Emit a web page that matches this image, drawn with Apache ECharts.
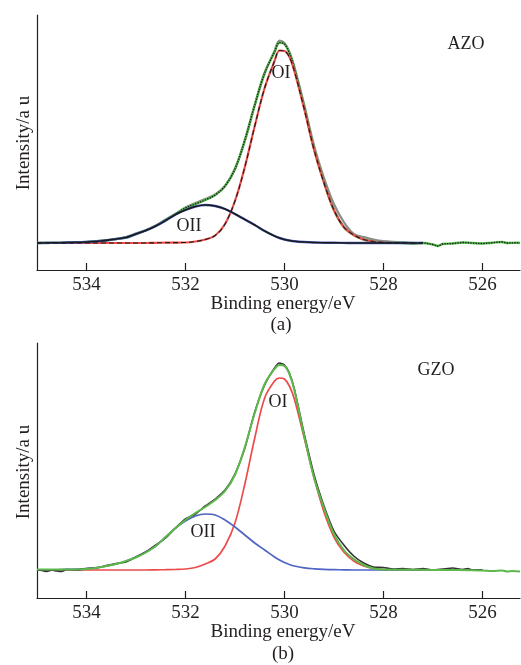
<!DOCTYPE html>
<html>
<head>
<meta charset="utf-8">
<script src="https://cdn.jsdelivr.net/npm/echarts@6/dist/echarts.min.js"></script>
<style>html,body{margin:0;padding:0;background:#fff;}#c{width:521px;height:665px;}</style>
</head>
<body>
<div id="c"></div>
<script>
// Binding energy grid (eV) for the smooth components
const energyA = [535, 534.5, 534, 533.7, 533.4, 533.2, 533.0, 532.8, 532.6, 532.4, 532.2, 532.0, 531.8, 531.6, 531.4, 531.2, 531.0, 530.8, 530.6, 530.4, 530.2, 530.1, 530.0, 529.9, 529.8, 529.6, 529.4, 529.2, 529.0, 528.8, 528.6, 528.4, 528.2, 528.0, 527.5, 527.2];
const energyB = [535, 534.5, 534, 533.7, 533.4, 533.2, 533.0, 532.8, 532.6, 532.4, 532.2, 532.0, 531.8, 531.6, 531.4, 531.2, 531.0, 530.8, 530.6, 530.4, 530.2, 530.1, 530.0, 529.9, 529.8, 529.6, 529.4, 529.2, 529.0, 528.8, 528.6, 528.4, 528.2, 528.0, 527.5, 527.2, 527.0, 526.5, 526.0];

// (a) AZO
const azoOI  = [0,0,0,0,0,0,0,0,0.2,0.3,0.4,0.5,1.5,3.5,7.5,19,42,76,117,155,182,192.5,192,186,172,134,93,60,33,16,8,3.5,1.5,0.5,0,0];
const azoOII = [0,0.3,1,2,4,5.5,9,12.5,17,22.5,28.5,33,36.5,38,37,34,29,23.5,18,12,7,5,3.5,2.5,1.8,1,0.5,0.3,0.2,0.1,0,0,0,0,0,0];
const azoRaw = [0,0.5,1,2.5,4,6,9.5,13,17.5,23.5,29,35.5,40,44,48.5,57,74,102,138,170,192,202.5,200,191,176,138,97,65,39,21,9,6,3.5,2,0.5,0];
const azoFitEnergy = [535, 534.5, 534, 533.7, 533.4, 533.2, 533.0, 532.8, 532.6, 532.4, 532.2, 532.0, 531.8, 531.6, 531.4, 531.2, 531.0, 530.8, 530.6, 530.4, 530.2, 530.1, 530.0, 529.9, 529.8, 529.6, 529.4, 529.2, 529.0, 528.8, 528.6, 528.4, 528.2, 528.0, 527.8, 527.6, 527.4, 527.2, 527.0, 526.9, 526.8, 526.6, 526.4, 526.2, 526.0, 525.8, 525.6, 525.5, 525.3, 525.24];
const azoFit = [0,0.3,1,2,4,5.5,9,12.5,17,23,29,35,39,43,48,57,74,103,138,170,191,200.5,199,190,175,136,94,61,33,16,8,3.5,1.5,0.5,0.2,0,-0.5,0,-1.5,-3,-1,-0.5,0.5,0,-0.5,0.3,1,0,0.3,0];

// (b) GZO
const gzoOI  = [0,0,0,0,0,0,0,0,0.2,0.3,0.5,1,2.5,6,11,24,47,86,132,172,189,192,191,184,171,132,92,58,33,18,9,4,1.5,0.5,0,0,0,0,0];
const gzoOII = [0,0.5,1.5,3,6,9,13,18,24,33,42,49,54,56,55,50,43,35,27,20,13,10,7.5,5.5,4,2.2,1.2,0.6,0.3,0.2,0,0,0,0,0,0,0,0,0];
const gzoFitEnergy = [535, 534.5, 534, 533.7, 533.4, 533.2, 533.0, 532.8, 532.6, 532.4, 532.2, 532.0, 531.8, 531.6, 531.4, 531.2, 531.0, 530.8, 530.6, 530.4, 530.2, 530.1, 530.0, 529.9, 529.8, 529.6, 529.4, 529.2, 529.0, 528.8, 528.6, 528.4, 528.2, 528.0, 527.5, 527.0, 526.5, 526.0, 525.8, 525.6, 525.5, 525.4, 525.24];
const gzoFit = [0.5,0.5,1,3,6,9,12.5,17.5,24,33,42,50,57,63,70,79,95,123,157,186,201,205,204,196,180,134,92,62,36,20,11,5,1.5,0.5,0.3,0,0,-0.5,-1,-0.5,-1.5,-1,-1.5];
const gzoRawEnergy = [535, 534.9, 534.8, 534.7, 534.6, 534.5, 534.4, 534.2, 534.0, 533.8, 533.6, 533.4, 533.2, 533.0, 532.8, 532.6, 532.4, 532.2, 532.0, 531.8, 531.6, 531.4, 531.2, 531.0, 530.8, 530.6, 530.4, 530.2, 530.1, 530.0, 529.9, 529.8, 529.6, 529.4, 529.2, 529.0, 528.8, 528.6, 528.4, 528.2, 528.0, 527.8, 527.6, 527.4, 527.2, 527.0, 526.8, 526.6, 526.4, 526.3, 526.2, 526.0];
const gzoRaw = [0,-0.5,-1.5,0,-1,-1.5,0.5,0,1.5,2,4.5,6.5,8,13,18,25,32,42,51,56,64,71,80,96,122,158,185,202,207,205,197,181,136,95,64,39,25,14,7,3,2.5,1,1.5,0.5,1.5,0,1,2,0.5,1.5,0,0];

const tickValues = [534, 532, 530, 528, 526];

const pairs = (xs, ys) => xs.map((x, i) => [x, ys[i]]);
const FONT = 'Liberation Serif';
const INK = '#231f20';

function line(xi, data, color, width, type, z, smooth) {
  return {
    type: 'line', xAxisIndex: xi, yAxisIndex: xi, data: data,
    showSymbol: false, symbol: 'none', smooth: smooth === undefined ? 0.35 : smooth,
    lineStyle: { color: color, width: width, type: type || 'solid' },
    z: z, silent: true, animation: false
  };
}

function xAx(i) {
  return {
    gridIndex: i, type: 'value', min: 525.24, max: 535, inverse: true,
    axisLine: { show: true, onZero: false, lineStyle: { color: INK, width: 1.2 } },
    axisTick: { show: true, inside: true, length: 7, customValues: tickValues, lineStyle: { color: INK, width: 1.2 } },
    axisLabel: { show: true, customValues: tickValues, fontFamily: FONT, fontSize: 19, color: INK, margin: 6 },
    splitLine: { show: false }
  };
}
function yAx(i, min, max) {
  return {
    gridIndex: i, type: 'value', min: min, max: max,
    axisLine: { show: true, onZero: false, lineStyle: { color: INK, width: 1.2 } },
    axisTick: { show: false }, axisLabel: { show: false }, splitLine: { show: false }
  };
}
function txt(text, x, y, size, rot) {
  return {
    type: 'text', x: x, y: y, rotation: rot || 0, silent: true,
    style: { text: text, fontFamily: FONT, fontSize: size, fill: INK, align: 'center', verticalAlign: 'middle' }
  };
}

const chart = echarts.init(document.getElementById('c'), null, { renderer: 'canvas' });
chart.setOption({
  animation: false,
  backgroundColor: '#ffffff',
  grid: [
    { left: 37, top: 15, width: 483, height: 255 },
    { left: 37, top: 343, width: 483, height: 255 }
  ],
  xAxis: [xAx(0), xAx(1)],
  yAxis: [yAx(0, -27, 228), yAx(1, -28, 227)],
  series: [
    line(0, pairs(energyA, azoRaw), '#8c8c8c', 2.2, 'solid', 2),
    line(0, pairs(azoFitEnergy, azoFit), '#4fb548', 2.4, 'solid', 3),
    line(0, pairs(azoFitEnergy, azoFit), '#1a1a1a', 1.3, 'dotted', 4),
    line(0, pairs(energyA, azoOI), '#e8504c', 2.2, 'solid', 5),
    line(0, pairs(energyA, azoOI), '#1a1a1a', 1.1, [5, 3], 6),
    line(0, pairs(energyA, azoOII), '#4a60c0', 2.4, 'solid', 5),
    line(0, pairs(energyA, azoOII), '#1a1a1a', 1.5, 'solid', 6),

    line(1, pairs(energyB, gzoOI), '#ec4b4b', 1.7, 'solid', 3),
    line(1, pairs(energyB, gzoOII), '#4d64c4', 1.7, 'solid', 3),
    line(1, pairs(gzoRawEnergy, gzoRaw), '#333333', 1.6, 'solid', 4, 0.2),
    line(1, pairs(gzoFitEnergy, gzoFit), '#5cb84a', 2, 'solid', 5)
  ],
  graphic: [
    txt('Intensity/a u', 24, 143, 19, Math.PI / 2),
    txt('Intensity/a u', 24, 472, 19, Math.PI / 2),
    txt('AZO', 466, 44, 18),
    txt('OI', 281, 73, 18),
    txt('OII', 189, 226, 18),
    txt('GZO', 436, 370, 18),
    txt('OI', 278, 402, 18),
    txt('OII', 203, 532, 18),
    txt('Binding energy/eV', 283, 304, 19),
    txt('Binding energy/eV', 283, 632, 19),
    txt('(a)', 281, 325, 19),
    txt('(b)', 283, 654, 19)
  ]
});
</script>
</body>
</html>
